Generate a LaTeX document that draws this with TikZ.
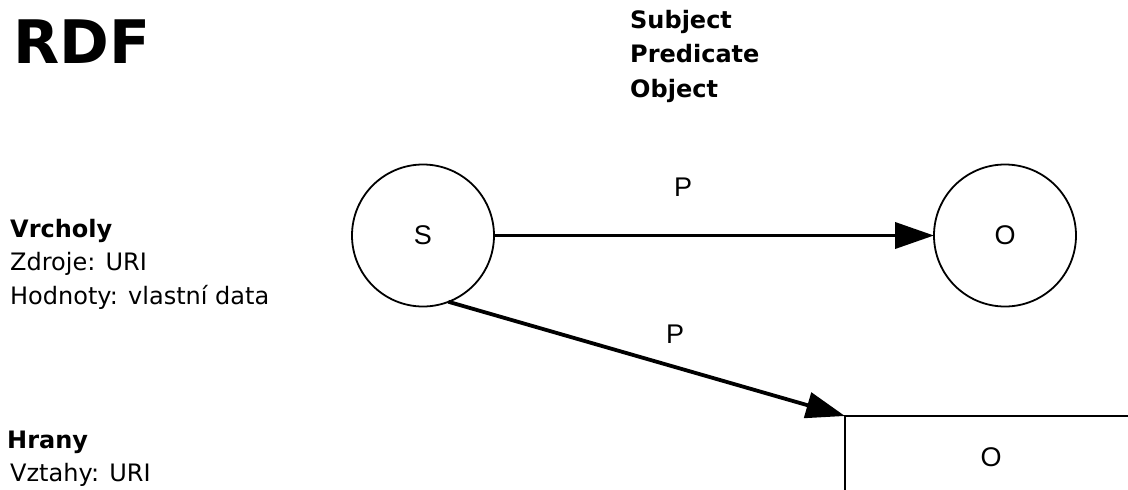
\documentclass[tikz,border=0pt]{standalone}
\usepackage{fontspec}
\setmainfont{DejaVu Sans}
\newfontfamily\arialf{Liberation Sans}
\usetikzlibrary{arrows.meta}
\tikzset{
  txt/.style={anchor=base west, inner sep=0pt, font=\fontsize{24}{34}\selectfont},
  btxt/.style={txt, font=\fontsize{24}{34}\selectfont\bfseries},
  lbl/.style={inner sep=0pt, font=\arialf\fontsize{27}{32}\selectfont},
  vertex/.style={draw, line width=1.8pt, circle, minimum size=142pt, inner sep=0pt, outer sep=0pt, font=\arialf\fontsize{27}{32}\selectfont},
  valbox/.style={draw, line width=1.8pt, rectangle, minimum width=292pt, minimum height=83pt, inner sep=0pt, outer sep=0pt, font=\arialf\fontsize{27}{32}\selectfont},
  edge/.style={line width=3.8pt, -{Triangle[length=39pt,width=26pt]}}
}
\begin{document}
\begin{tikzpicture}[x=1pt,y=-1pt]
\useasboundingbox (0,0) rectangle (1128,490);
\clip (0,0) rectangle (1128,490);
\fill[white] (0,0) rectangle (1128,490);
\node[txt, font=\fontsize{60}{70}\selectfont\bfseries] (title) at (13,63) {RDF};
\node[btxt] (subj) at (630,28) {Subject};
\node[btxt] (pred) at (630,62.5) {Predicate};
\node[btxt] (obj) at (630,97) {Object};
\node[btxt] (vrch) at (10,237) {Vrcholy};
\node[txt] (zdr) at (10,270) {Zdroje: URI};
\node[txt] (hod) at (10,304) {Hodnoty: vlastní data};
\node[btxt] (hrany) at (7,448) {Hrany};
\node[txt] (vzt) at (10,481.5) {Vztahy: URI};
\node[vertex] (S) at (423,235.5) {S};
\node[vertex] (O) at (1005,235.5) {O};
\node[valbox] (O2) at (991,457.5) {O};
\draw[edge] (S) -- (O);
\draw[edge] (S.-69) -- (O2.north west);
\node[lbl, anchor=base] (p1) at (683,196) {P};
\node[lbl, anchor=base] (p2) at (675,343) {P};
\end{tikzpicture}
\end{document}
